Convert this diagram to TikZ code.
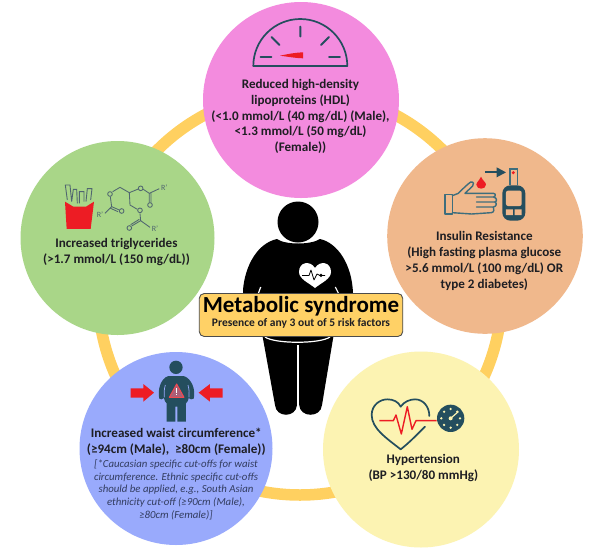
\documentclass[tikz,border=0pt]{standalone}
\usepackage{fontspec}
\setmainfont{Carlito}
\definecolor{ringc}{RGB}{255,208,96}
\definecolor{pinkc}{RGB}{243,139,222}
\definecolor{greenc}{RGB}{169,214,136}
\definecolor{orangec}{RGB}{240,184,140}
\definecolor{bluec}{RGB}{153,170,252}
\definecolor{yellowc}{RGB}{252,243,178}
\definecolor{boxc}{RGB}{255,209,102}
\definecolor{teal}{RGB}{36,78,94}
\definecolor{lteal}{RGB}{62,110,125}
\definecolor{redc}{RGB}{237,28,36}
\definecolor{txt}{RGB}{30,30,35}
\definecolor{noteblue}{RGB}{50,60,95}
\definecolor{molec}{RGB}{80,102,112}
\definecolor{warnc}{RGB}{170,95,120}
\tikzset{
  risk/.style={circle,inner sep=0pt,minimum size=#1,draw=none},
  label13/.style={inner sep=0pt,align=center,text=txt,font=\bfseries\fontsize{13.1}{15.8}\selectfont},
  notetext/.style={inner sep=0pt,align=center,text=noteblue,font=\itshape\fontsize{10.8}{12.7}\selectfont},
  icon/.style={line width=#1,draw=teal,line cap=round,line join=round},
  icon/.default=1.6pt,
  mol/.style={line width=0.85pt,draw=molec},
  rlabel/.style={inner sep=0pt,text=molec,font=\fontsize{8}{8}\selectfont},
  zoomed/.style={x=0.3333pt,y=-0.3333pt}
}
\begin{document}
\begin{tikzpicture}[x=1pt,y=-1pt]
\useasboundingbox (0,0) rectangle (600,558);
\fill[white] (0,0) rectangle (600,558);
% ring
\coordinate (ringc) at (300,293);
\draw[ringc,line width=11.5pt] (ringc) circle[radius=202];
% risk circles
\node[risk=196pt,fill=pinkc] (pink) at (301,100) {};
\node[risk=194pt,fill=greenc] (green) at (117.5,238) {};
\node[risk=195.6pt,fill=orangec] (orange) at (485,236) {};
\node[risk=193pt,fill=bluec] (blue) at (176,448.5) {};
\node[risk=196pt,fill=yellowc] (yellow) at (421,449.5) {};
% texts
\node[label13] (hdl) at (300.5,116.5) {Reduced high-density\\lipoproteins (HDL)\\(<1.0 mmol/L (40 mg/dL) (Male),\\<1.3 mmol/L (50 mg/dL)\\(Female))};
\node[label13] (tg) at (116.5,252) {Increased triglycerides\\(>1.7 mmol/L (150 mg/dL))};
\node[label13] (ir) at (484.3,261) {Insulin Resistance\\(High fasting plasma glucose\\>5.6 mmol/L (100 mg/dL) OR\\type 2 diabetes)};
\node[label13] (ht) at (423.3,468.3) {Hypertension\\(BP >130/80 mmHg)};
\node[label13] (wc) at (176.3,441.5) {Increased waist circumference*\\(≥94cm (Male),\ \ ≥80cm (Female))};
\node[notetext] (note) at (176,489.7) {[*Caucasian specific cut-offs for waist\\circumference. Ethnic specific cut-offs\\should be applied, e.g., South Asian\\ethnicity cut-off (≥90cm (Male),\\≥80cm (Female)]};
% gauge
\draw[teal,line width=1.7pt,line join=round] (253.3,66) arc[start angle=180,end angle=360,radius=47] -- cycle;
\draw[icon=1.9pt] (260.5,57) -- (271.5,57) (271.5,37) -- (279.5,45) (300.3,26.5) -- (300.3,36.5) (329,37) -- (321,45) (329,57) -- (340,57);
\fill[redc] (280,55.7) .. controls (290,53.5) and (297,52.5) .. (303,52.3) -- (303,58.3) .. controls (297,58.3) and (290,57) .. cycle;
% fries and molecule
\begin{scope}[shift={(20,150)},zoomed]
\draw[molec,line width=0.9pt] (142,150) -- (136,105) -- (150,105) -- (155,155) (155,155) -- (160,118) -- (170,118) -- (172,160) (178,160) -- (178,125) -- (192,125) -- (192,155) (198,155) -- (202,116) -- (216,116) -- (212,150);
\fill[redc] (135,155) -- (160,170) -- (198,170) -- (222,155) -- (212,237) -- (140,237) -- cycle;
\draw[mol] (255,190) -- (275,170) (275,170) -- (298,180) (272,175) -- (294,185) (275,170) -- (271,140) (278,125) -- (300,112) -- (328,128) -- (355,117) (370,118) -- (388,130) -- (418,116) (388,130) -- (388,158) (393,130) -- (393,158) (328,128) -- (330,165) -- (352,178) (360,190) -- (362,212) -- (335,228) (358,208) -- (332,224) (362,212) -- (390,232);
\draw[mol] (270,132) circle[radius=7] (305,183) circle[radius=7] (362,115) circle[radius=7] (390,165) circle[radius=7] (360,181) circle[radius=7] (328,234) circle[radius=7];
\node[rlabel] (r1) at (240,194) {R'};
\node[rlabel] (r2) at (433,113) {R'};
\node[rlabel] (r3) at (405,235) {R'};
\end{scope}
% hand and meter
\begin{scope}[shift={(430,150)},zoomed]
\draw[lteal,line width=1.4pt,line join=round,line cap=round] (45,133) rectangle (67,192);
\draw[lteal,line width=1.4pt,line join=round,line cap=round] (67,137) -- (85,130) .. controls (100,115) and (110,105) .. (122,96) .. controls (132,94) and (132,104) .. (128,108) -- (105,130) -- (190,130) .. controls (198,130) and (198,140) .. (190,141) -- (140,141) (190,141) .. controls (202,143) and (202,155) .. (194,156) -- (140,156) (194,156) .. controls (202,158) and (200,170) .. (190,171) -- (140,171) (190,171) .. controls (194,176) and (192,188) .. (184,188) -- (125,192) -- (67,188);
\fill[redc] (153,80) .. controls (158,92) and (168,97) .. (168,104) .. controls (168,120) and (139,120) .. (139,104) .. controls (139,97) and (148,92) .. cycle;
\draw[teal,line width=2pt] (165,67) -- (205,67);
\fill[teal] (200,52) -- (228,67) -- (200,82) -- cycle;
\draw[lteal,line width=1.3pt] (240,104) -- (240,57) -- (262,57) -- (262,104);
\fill[redc] (250,68) circle[radius=5];
\fill[teal,rounded corners=8pt] (217,106) rectangle (286,212);
\fill[orangec,rounded corners=2pt] (228,122) rectangle (275,168);
\fill[orangec] (228,178) rectangle (249,195) (254,178) rectangle (275,195);
\end{scope}
% waist icon
\begin{scope}[shift={(40,360)},zoomed]
\fill[teal] (408,22) circle[radius=20];
\fill[teal] (380,185) -- (380,130) .. controls (372,122) and (374,118) .. (372,114) .. controls (366,120) and (362,118) .. (358,116) .. controls (352,90) and (362,55) .. (385,48) -- (431,48) .. controls (455,55) and (468,90) .. (461,116) .. controls (456,118) and (450,120) .. (446,114) .. controls (444,118) and (446,122) .. (438,130) -- (438,185) -- (412,185) -- (412,140) -- (406,140) -- (406,185) -- cycle;
\draw[bluec,line width=0.7pt] (376,75) .. controls (372,90) and (372,100) .. (373,112) (444,75) .. controls (448,90) and (448,100) .. (447,112);
\draw[redc!80!white,line width=1pt,fill=warnc,line join=round] (410,72) -- (432,112) -- (388,112) -- cycle;
\draw[white,line width=0.6pt] (410,85) -- (410,99) (410,103) -- (410,106);
\fill[redc] (272,85) -- (310,85) -- (310,72) -- (342,98) -- (310,125) -- (310,113) -- (272,113) -- cycle;
\fill[redc] (548,85) -- (510,85) -- (510,72) -- (476,98) -- (510,125) -- (510,113) -- (548,113) -- cycle;
\end{scope}
% heart and dial
\begin{scope}[shift={(330,360)},zoomed]
\draw[teal,line width=1.7pt,line cap=round,line join=round] (285,200) .. controls (250,235) and (235,250) .. (212,268) .. controls (170,235) and (125,205) .. (125,165) .. controls (125,135) and (150,118) .. (172,118) .. controls (190,118) and (205,125) .. (212,140) .. controls (222,125) and (240,118) .. (255,118) .. controls (280,118) and (298,140) .. (298,168);
\draw[redc,line width=1.4pt,line join=round] (148,182) -- (190,182) -- (198,165) -- (214,222) -- (232,140) -- (246,208) -- (258,182) -- (320,182);
\fill[teal] (362,175) circle[radius=41];
\foreach \a in {0,45,...,315}{\fill[yellowc] (362,175) ++(\a:28) circle[radius=3.8];}
\draw[yellowc,line width=1.2pt] (362,175) -- (385,155);
\fill[yellowc] (362,175) circle[radius=6];
\end{scope}
% person
\fill[black] (298,222) circle[radius=20.5];
\fill[black] (243,300) -- (243,290) .. controls (245,265) and (258,243) .. (277,239) .. controls (285,245) and (311,245) .. (320,239) .. controls (338,243) and (352,265) .. (353,293) -- (353,300) -- cycle;
\fill[black] (262.7,330) -- (333.3,330) -- (333.3,337) -- (322,405) .. controls (321,418) and (300,418) .. (299.2,405) -- (298,350) -- (297,405) .. controls (296,418) and (276,418) .. (275,405) -- (262.7,337) -- cycle;
\draw[white,line width=1.2pt] (265,337) .. controls (275,344) and (320,344) .. (330,337);
\draw[white,line width=1.4pt] (298,345) -- (298,412);
\draw[white,line width=1.2pt] (258.5,293) -- (260.7,287) (338.3,293) -- (335.3,287);
\fill[white] (315,268) .. controls (310,260) and (299,262) .. (299,272) .. controls (299,279) and (309,283) .. (315,288) .. controls (321,283) and (331,279) .. (331,272) .. controls (331,262) and (320,260) .. cycle;
\draw[black,line width=0.8pt,line join=round] (302,275.5) -- (309,275.5) -- (311,270) -- (314,280) -- (317,274) -- (320,275.5) -- (325,275.5);
\fill[black] (321,275.3) circle[radius=1.8];
% title box
\node[draw=black!70,fill=boxc,rounded corners=5pt,line width=0.9pt,minimum width=203.5pt,minimum height=43pt,inner sep=0pt] (box) at (301,315) {};
\node[inner sep=0pt,text=black,font=\bfseries\fontsize{23}{23}\selectfont] (title) at (301,306) {Metabolic syndrome};
\node[inner sep=0pt,text=txt,font=\bfseries\fontsize{11.5}{12}\selectfont] (sub) at (301,323) {Presence of any 3 out of 5 risk factors};
\end{tikzpicture}
\end{document}
